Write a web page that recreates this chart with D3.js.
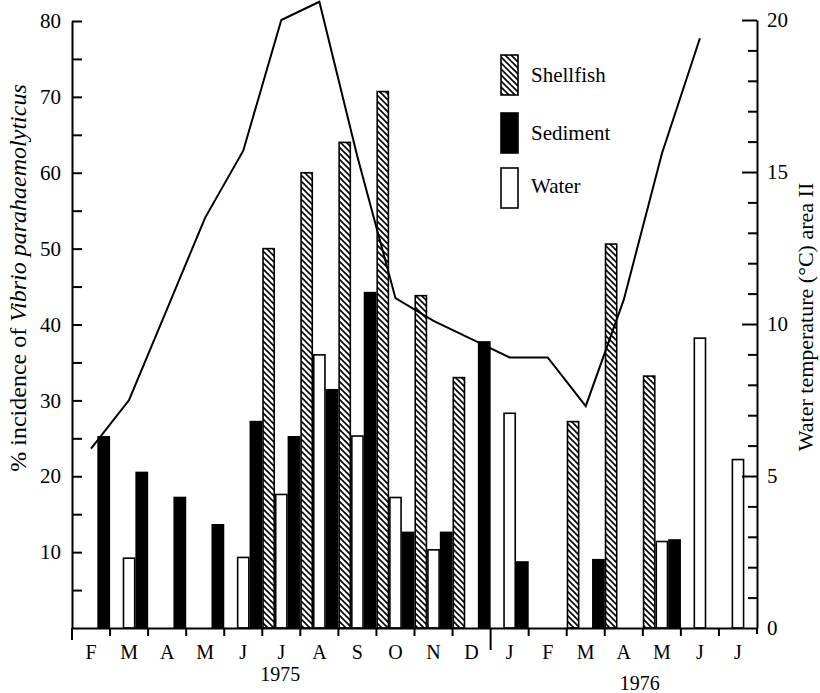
<!DOCTYPE html>
<html>
<head>
<meta charset="utf-8">
<script src="https://cdn.jsdelivr.net/npm/d3@7"></script>
<style>
  html, body { margin: 0; padding: 0; background: #fff; }
  svg { display: block; }
  svg text { font-family: "Liberation Serif", "Times New Roman", Times, "DejaVu Serif", "Noto Serif", serif !important; fill: #000; }
</style>
</head>
<body>
<svg id="chart" width="820" height="693"></svg>
<script>
// ---------------- data ----------------
const months = ["F","M","A","M","J","J","A","S","O","N","D","J","F","M","A","M","J","J"];
const years = ["1975", "1976"];
const seriesNames = ["Shellfish", "Water", "Sediment"];
const legendNames = ["Shellfish", "Sediment", "Water"];
const shellfish = [null,null,null,null,null,50,60,64,70.7,43.8,33,null,null,27.2,50.6,33.2,null,null];
const sediment  = [25.2,20.5,17.2,13.6,27.2,25.2,31.4,44.2,12.6,12.6,37.7,8.7,null,9,null,11.6,null,null];
const water     = [null,9.2,null,null,9.3,17.6,36,25.3,17.2,10.3,null,28.3,null,null,null,11.4,38.2,22.2];
const temperature = [5.9,7.5,10.5,13.5,15.7,20,20.6,15.5,10.85,10.1,9.5,8.9,8.9,7.3,10.8,15.6,19.4,null];
const leftTickValues = [5,10,15,20,25,30,35,40,45,50,55,60,65,70,75,80];
const leftLabelValues = [10,20,30,40,50,60,70,80];
const rightTickValues = [0,1,2,3,4,5,6,7,8,9,10,11,12,13,14,15,16,17,18,19,20];
const rightLabelValues = [0,5,10,15,20];

// ---------------- layout ----------------
const FONT = "Liberation Serif, Times New Roman, Times, DejaVu Serif, serif";
const svg = d3.select("#chart");
const X0 = 72, X1 = 757, Y0 = 628;

const x = d3.scaleBand().domain(d3.range(months.length)).range([X0, X1]).padding(0);
const xs = d3.scaleBand().domain(seriesNames).range([0, x.bandwidth()]).padding(0);
const yL = d3.scaleLinear().domain([0, 80]).range([Y0, 21]);
const yR = d3.scaleLinear().domain([0, 20]).range([Y0, 20]);

// hatch pattern
const defs = svg.append("defs");
const pat = defs.append("pattern").attr("id", "hatch")
  .attr("patternUnits", "userSpaceOnUse").attr("width", 6).attr("height", 6);
pat.append("rect").attr("width", 6).attr("height", 6).attr("fill", "#fff");
pat.append("path").attr("d", "M0,0 L6,6 M-1,5 L1,7 M5,-1 L7,1")
  .attr("stroke", "#000").attr("stroke-width", 1.6);

const fills = { Shellfish: "url(#hatch)", Sediment: "#000", Water: "#fff" };
const dataBy = { Shellfish: shellfish, Sediment: sediment, Water: water };

// bars
const barData = [];
months.forEach((m, i) => {
  seriesNames.forEach(s => {
    const v = dataBy[s][i];
    if (v != null) barData.push({ i, s, v });
  });
});
svg.append("g").selectAll("rect").data(barData).join("rect")
  .attr("x", d => x(d.i) + xs(d.s) + 0.75)
  .attr("width", xs.bandwidth() - 1.5)
  .attr("y", d => yL(d.v))
  .attr("height", d => Y0 - yL(d.v))
  .attr("fill", d => fills[d.s])
  .attr("stroke", "#000")
  .attr("stroke-width", 1.6);

// temperature line
const line = d3.line()
  .defined(d => d != null)
  .x((d, i) => x(i) + x.bandwidth() / 2)
  .y(d => yR(d));
svg.append("path").datum(temperature)
  .attr("d", line)
  .attr("fill", "none").attr("stroke", "#000").attr("stroke-width", 2)
  .attr("stroke-linejoin", "miter");

// left axis
const axL = d3.axisLeft(yL).tickValues(leftTickValues)
  .tickFormat(d => leftLabelValues.includes(d) ? d : "")
  .tickSize(-10).tickSizeOuter(0).tickPadding(11);
const gL = svg.append("g").attr("transform", `translate(${X0},0)`).call(axL)
  .attr("font-family", FONT).attr("font-size", 21);
gL.select(".domain").attr("stroke-width", 2);
gL.selectAll(".tick line").attr("stroke-width", 2);
svg.append("line").attr("x1", X0).attr("x2", X0).attr("y1", Y0).attr("y2", Y0 + 12)
  .attr("stroke", "#000").attr("stroke-width", 2);

// right axis
const axR = d3.axisRight(yR).tickValues(rightTickValues)
  .tickFormat(d => rightLabelValues.includes(d) ? d : "")
  .tickSize(-9).tickSizeOuter(0).tickPadding(10);
const gR = svg.append("g").attr("transform", `translate(${X1},0)`).call(axR)
  .attr("font-family", FONT).attr("font-size", 21);
gR.select(".domain").attr("stroke-width", 2);
gR.selectAll(".tick line").attr("stroke-width", 2)
  .attr("x2", d => rightLabelValues.includes(d) && d !== 0 ? -15 : -9);
gR.selectAll(".tick").filter(d => d === 0).select("line").attr("x2", 0);
svg.append("line").attr("x1", X1).attr("x2", X1).attr("y1", Y0).attr("y2", Y0 + 6)
  .attr("stroke", "#000").attr("stroke-width", 2);

// bottom axis (month labels)
const axB = d3.axisBottom(x).tickFormat(i => months[i]).tickSize(0).tickPadding(17);
const gB = svg.append("g").attr("transform", `translate(0,${Y0})`).call(axB)
  .attr("font-family", FONT).attr("font-size", 20);
gB.select(".domain").attr("stroke-width", 2);

// month boundary ticks
const boundaries = d3.range(1, months.length).map(i => x(i));
svg.append("g").selectAll("line").data(boundaries).join("line")
  .attr("x1", d => d).attr("x2", d => d)
  .attr("y1", Y0).attr("y2", (d, k) => k === 10 ? Y0 + 22 : Y0 + 8)
  .attr("stroke", "#000").attr("stroke-width", 2);

// year labels
svg.append("text").attr("x", (x(5) + x(6)) / 2 - 1).attr("y", 681)
  .attr("text-anchor", "middle").attr("font-size", 20).text(years[0]);
svg.append("text").attr("x", x(14) + x.bandwidth() / 2 + 16).attr("y", 690)
  .attr("text-anchor", "middle").attr("font-size", 20).text(years[1]);

// legend
const legY = [55, 113, 168];
const legTextY = [82, 140, 193];
const lg = svg.append("g");
legendNames.forEach((n, k) => {
  lg.append("rect").attr("x", 501).attr("y", legY[k]).attr("width", 17).attr("height", 40)
    .attr("fill", fills[n]).attr("stroke", "#000").attr("stroke-width", 1.6);
  lg.append("text").attr("x", 531).attr("y", legTextY[k]).attr("font-size", 21).text(n);
});

// axis titles
const tL = svg.append("text")
  .attr("transform", "translate(26,278) rotate(-90)")
  .attr("text-anchor", "middle").attr("font-size", 24);
tL.append("tspan").text("% incidence of ");
tL.append("tspan").attr("font-style", "italic").text("Vibrio parahaemolyticus");

svg.append("text")
  .attr("transform", "translate(813,317) rotate(-90)")
  .attr("text-anchor", "middle").attr("font-size", 22)
  .text("Water temperature (°C) area II");
</script>
</body>
</html>
